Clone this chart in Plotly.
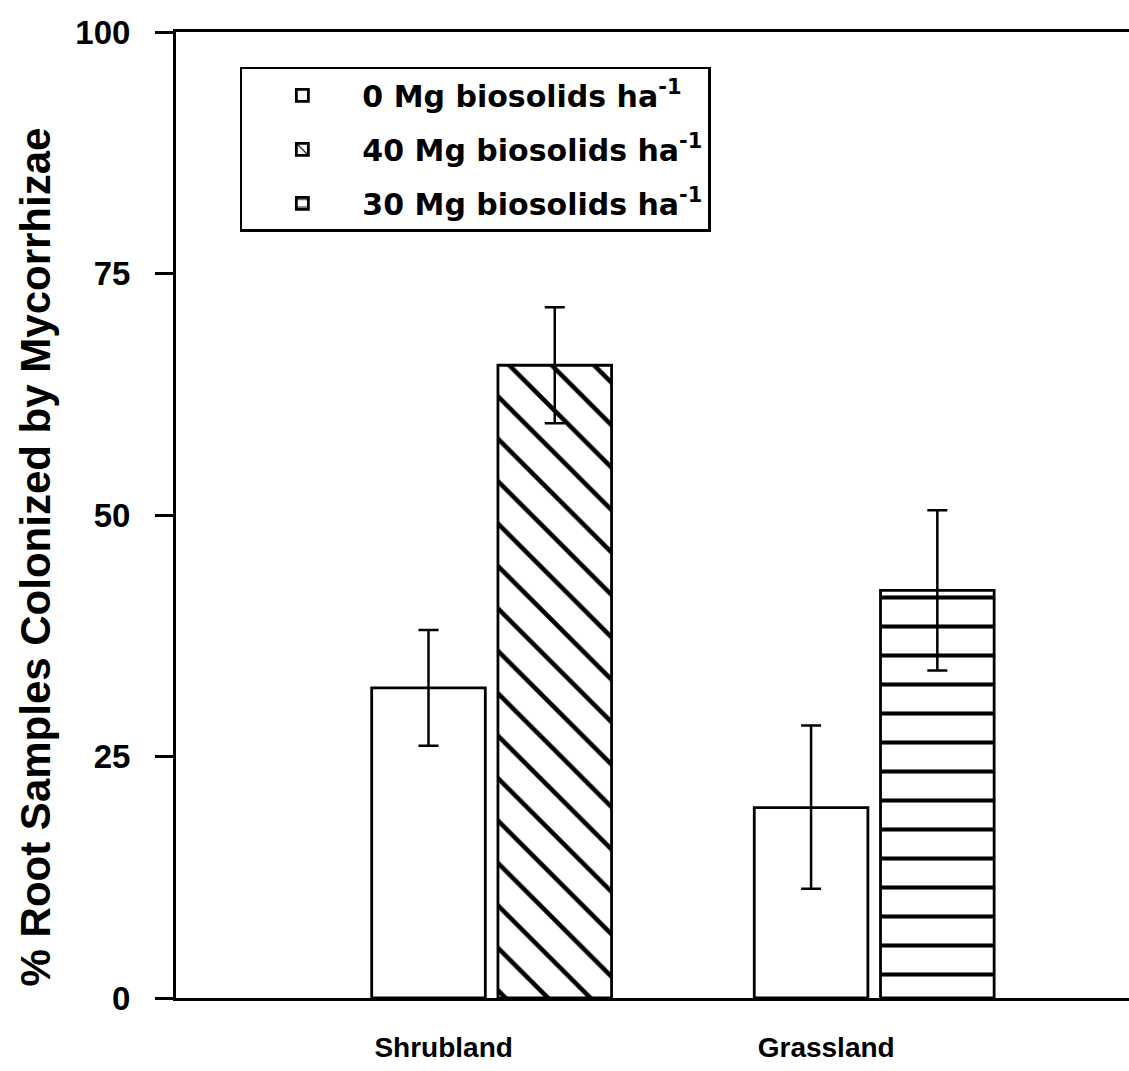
import plotly.graph_objects as go

# ---- data ----
sites = ["Shrubland", "Grassland"]
ctrl_vals = [32.1, 19.7]
ctrl_err_plus = [6.0, 8.5]
ctrl_err_minus = [6.0, 8.4]

b40_sites = ["Shrubland"]
b40_vals = [65.5]
b40_err_plus = [6.0]
b40_err_minus = [6.0]

b30_sites = ["Grassland"]
b30_vals = [42.2]
b30_err_plus = [8.3]
b30_err_minus = [8.3]

y_ticks = [0, 25, 50, 75, 100]
series_names = [
    "0 Mg biosolids ha<sup>-1</sup>",
    "40 Mg biosolids ha<sup>-1</sup>",
    "30 Mg biosolids ha<sup>-1</sup>",
]
y_title = "% Root Samples Colonized by Mycorrhizae"

BOLD = "Liberation Sans"
LEG = "DejaVu Sans"

line = dict(color="black", width=2.8)
err_style = dict(type="data", symmetric=False, color="black", thickness=2.5, width=10)

fig = go.Figure()
fig.add_trace(go.Bar(
    x=sites, y=ctrl_vals, name=series_names[0], offsetgroup="a", legendgroup="g0",
    marker=dict(color="white", line=line),
    error_y=dict(array=ctrl_err_plus, arrayminus=ctrl_err_minus, **err_style),
))
fig.add_trace(go.Bar(
    x=b40_sites, y=b40_vals, name=series_names[1], offsetgroup="b", legendgroup="g1",
    marker=dict(color="white", line=line,
                pattern=dict(shape="\\", size=30, solidity=0.15, fgcolor="black",
                             bgcolor="white", fgopacity=1, fillmode="replace")),
    error_y=dict(array=b40_err_plus, arrayminus=b40_err_minus, **err_style),
))
fig.add_trace(go.Bar(
    x=b30_sites, y=b30_vals, name=series_names[2], offsetgroup="b", legendgroup="g2",
    marker=dict(color="white", line=line,
                pattern=dict(shape="-", size=29, solidity=0.14, fgcolor="black",
                             bgcolor="white", fgopacity=1, fillmode="replace")),
    error_y=dict(array=b30_err_plus, arrayminus=b30_err_minus, **err_style),
))

fig.update_layout(
    width=1129, height=1071,
    margin=dict(l=176, r=0, t=32, b=73, autoexpand=False),
    plot_bgcolor="white", paper_bgcolor="white",
    barmode="group", bargap=0.34, bargroupgap=0.1,
    showlegend=True,
    legend=dict(
        x=0.067, y=0.964, xanchor="left", yanchor="top",
        bordercolor="black", borderwidth=2.5, bgcolor="white",
        font=dict(family=LEG, size=30, color="black", weight="bold"),
        itemwidth=110, tracegroupgap=12,
        traceorder="grouped",
    ),
    xaxis=dict(
        categoryorder="array", categoryarray=sites,
        range=[-0.825, 1.666],
        showline=True, linecolor="black", linewidth=3, mirror=True,
        ticks="", showgrid=False, zeroline=False,
        tickfont=dict(family=BOLD, size=28, color="black", weight="bold"),
        ticklabelshift=-48, ticklabelstandoff=22,
    ),
    yaxis=dict(
        range=[0, 100], tickvals=y_ticks,
        showline=True, linecolor="black", linewidth=3,
        ticks="outside", ticklen=18, tickwidth=2.5, tickcolor="black",
        showgrid=False, zeroline=False,
        tickfont=dict(family=BOLD, size=33, color="black", weight="bold"),
        ticklabelstandoff=18,
    ),
    annotations=[dict(
        text=y_title, xref="paper", yref="paper",
        x=-0.147, y=0.457, textangle=-90, showarrow=False,
        xanchor="center", yanchor="middle",
        font=dict(family=BOLD, size=42, color="black", weight="bold"),
    )],
)

fig.write_html("out.html")
